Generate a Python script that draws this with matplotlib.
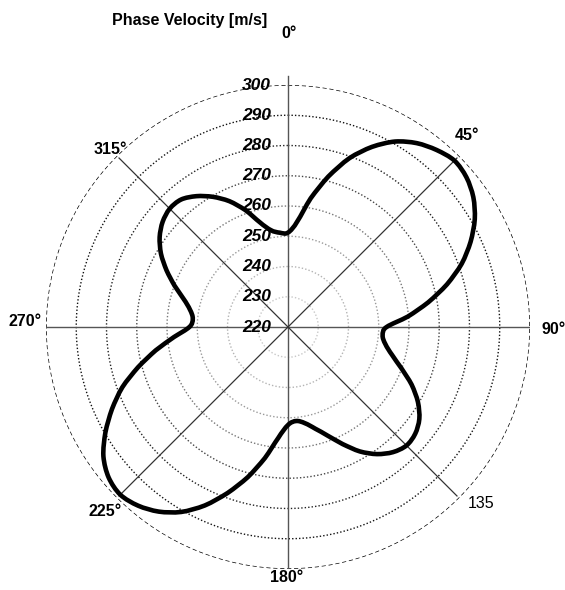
import numpy as np
import matplotlib.pyplot as plt
from matplotlib.path import Path
from matplotlib.patches import PathPatch
from matplotlib.transforms import offset_copy

plt.rcParams['font.family'] = ['Liberation Sans', 'DejaVu Sans']

# phase velocity [m/s] vs propagation angle [deg]
angle_deg = [0, 5, 10, 15, 20, 25, 30, 35, 40, 45, 50, 55, 60, 65, 70, 75, 80, 85,
             90, 95, 100, 105, 110, 115, 120, 125, 130, 135, 140, 145, 150, 155, 160, 165, 170, 175,
             180, 185, 190, 195, 200, 205, 210, 215, 220, 225, 230, 235, 240, 245, 250, 255, 260, 265,
             270, 275, 280, 285, 290, 295, 300, 305, 310, 315, 320, 325, 330, 335, 340, 345, 350, 355]
velocity = [251.2, 255, 263.2, 271.5, 279.4, 285.7, 290.8, 294.2, 296.4, 297.8, 297, 294.8,
            291.3, 286.6, 281.1, 274.4, 267.1, 259.8,
            252.6, 251.4, 252.7, 255.6, 259.9, 265.1, 269.6, 273, 274.9, 275.4, 274, 271.3,
            267.5, 262.7, 258.2, 254.8, 252.3, 251.2,
            252.4, 256.8, 264, 271.4, 278.4, 285.1, 290.6, 294.5, 297.1, 298.4, 297.4, 294.5,
            289.7, 284.2, 278.3, 271.3, 264.4, 257.8,
            252.6, 251.6, 252.9, 255.7, 259.9, 264.3, 268.5, 271.8, 274.1, 275.3, 275, 272.8,
            269.7, 265.9, 261.1, 255.8, 252.5, 251.3]

r_ticks = [220, 230, 240, 250, 260, 270, 280, 290, 300]
ring_colors = ['#dddddd', '#c8c8c8', '#b4b4b4', '#9a9a9a', '#777777', '#444444', '#222222', '#111111', '#000000']
angle_labels = ['0°', '45°', '90°', '135', '180°', '225°', '270°', '315°']

W, H = 565, 590
fig = plt.figure(figsize=(W / 100, H / 100), dpi=100)
cx, cy, R = 288, 327, 242
ax = fig.add_axes([(cx - R) / W, (H - cy - R) / H, 2 * R / W, 2 * R / H], projection='polar')
ax.set_theta_zero_location('N')
ax.set_theta_direction(-1)
ax.set_ylim(220, 300)
ax.grid(False)
ax.set_xticks([])
ax.set_yticks([])
ax.spines['polar'].set_visible(False)

# rings
th = np.linspace(0, 2 * np.pi, 400)
for r, c in zip(r_ticks[1:], ring_colors[1:]):
    ls = (0, (3, 2)) if r == 300 else (0, (1, 1.5))
    ax.plot(th, np.full_like(th, r), color=c, lw=1, ls=ls, zorder=1)

# spokes
for a in [0, 90, 180, 270]:
    ax.plot([np.radians(a)] * 2, [220, 300], color='#555555', lw=1, zorder=2)
ax.plot([0, 0], [300, 303], color='#555555', lw=1, zorder=2, clip_on=False)
for a in [45, 135, 225, 315]:
    ax.plot([np.radians(a)] * 2, [220, 299], color='#333333', lw=0.9, zorder=2)

# radial labels
trans = offset_copy(ax.transData, fig=fig, x=-17, y=0, units='dots')
for r in r_ticks:
    ax.text(0, r, str(r), transform=trans, ha='right', va='center',
            fontsize=12.5, fontweight='bold', fontstyle='italic', zorder=4)

# closed smooth curve through the read points (Catmull-Rom as cubic Bezier)
pts = np.column_stack([np.radians(angle_deg), velocity])
n = len(pts)


def pt(i):
    p = pts[i % n].copy()
    p[0] += 2 * np.pi * (i // n)
    return p


verts = [pt(0)]
codes = [Path.MOVETO]
for i in range(n):
    verts += [pt(i) + (pt(i + 1) - pt(i - 1)) / 6, pt(i + 1) - (pt(i + 2) - pt(i)) / 6, pt(i + 1)]
    codes += [Path.CURVE4] * 3
ax.add_patch(PathPatch(Path(verts, codes), transform=ax.transData, fill=False,
                       ec='black', lw=3.3, zorder=3))

# angle labels (pixel positions in the figure)
label_px = [(289, 33, 'center'), (467, 136, 'center'), (542, 330, 'left'), (468, 503, 'left'),
            (287, 578, 'center'), (105, 511, 'center'), (42, 322, 'right'), (110, 149, 'center')]
for (x, y, ha), t in zip(label_px, angle_labels):
    fig.text(x / W, 1 - y / H, t, ha=ha, va='center', fontsize=11.5,
             fontweight='normal' if t == '135' else 'bold')

fig.text(190 / W, 1 - 20 / H, 'Phase Velocity [m/s]', ha='center', va='center',
         fontsize=11.5, fontweight='bold')

fig.savefig('out.png', dpi=100)
